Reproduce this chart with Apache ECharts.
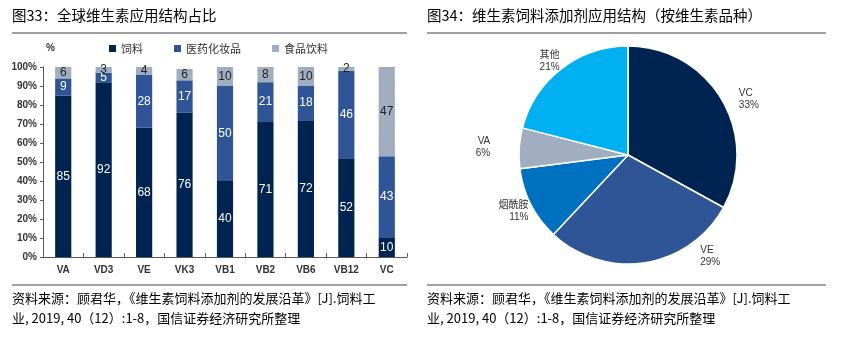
<!DOCTYPE html>
<html><head><meta charset="utf-8">
<script src="https://cdn.jsdelivr.net/npm/echarts@6/dist/echarts.min.js"></script>
<style>html,body{margin:0;padding:0;background:#fff}#c{width:841px;height:337px}</style>
</head><body><div id="c"></div>
<script>
const categories = ['VA','VD3','VE','VK3','VB1','VB2','VB6','VB12','VC'];
const feed = [85,92,68,76,40,71,72,52,10];
const pharma = [9,5,28,17,50,21,18,46,43];
const food = [6,3,4,6,10,8,10,2,47];
const yTicks = [0,10,20,30,40,50,60,70,80,90,100];
const pieNames = ['VC','VE','烟酰胺','VA','其他'];
const pieValues = [33,29,11,6,21];
const pieColors = ['#002452','#2F5597','#0070C0','#A0AEBF','#00B0F0'];
const barColors = ['#002452','#2F5597','#A0AEBF'];
// label nudges (layout only)
const pieLabelShift = [[0,7],[48,-20],[15,0],[-10,0],[12,3]];

const FF = '"Liberation Sans", "Noto Sans CJK SC", sans-serif';
const CJK = '"Noto Sans CJK SC", sans-serif';
const chart = echarts.init(document.getElementById('c'));
const lbl = (color) => ({show:true, position:'inside', color:color, fontSize:12, fontFamily:FF});
const src1 = '资料来源：顾君华，《维生素饲料添加剂的发展沿革》[J].饲料工';
const src2 = '业, 2019, 40（12）:1-8，国信证券经济研究所整理';
function txt(x,y,t,size){return {type:'text',left:x,top:y,style:{text:t,fontSize:size,fontFamily:CJK,fill:'#000'}};}
function hline(x1,x2,y){return {type:'line',shape:{x1:x1,y1:y,x2:x2,y2:y},style:{stroke:'#808080',lineWidth:1.5}};}
chart.setOption({
  animation:false,
  textStyle:{fontFamily:FF},
  graphic:[
    txt(12,8,'图33：全球维生素应用结构占比',14.5),
    txt(427,8,'图34：维生素饲料添加剂应用结构（按维生素品种）',14.5),
    hline(12,407,33), hline(427,826,33),
    hline(12,407,285), hline(427,826,285),
    txt(12,292,src1,13), txt(12,312,src2,13),
    txt(427,292,src1,13), txt(427,312,src2,13)
  ],
  legend:{top:38,left:104,itemWidth:7,itemHeight:7,itemGap:31,icon:'rect',
    textStyle:{fontSize:11,color:'#333',fontFamily:CJK},
    data:['饲料','医药化妆品','食品饮料']},
  grid:{left:43,right:434,top:67,bottom:80},
  xAxis:{type:'category',data:categories,
    axisLine:{lineStyle:{color:'#595959',width:1}},
    axisTick:{show:true,inside:true,length:4,lineStyle:{color:'#595959'}},
    axisLabel:{fontSize:10,color:'#333',fontWeight:'bold',margin:8}},
  yAxis:{type:'value',min:0,max:100,interval:10,name:'%',nameGap:14,
    nameTextStyle:{fontSize:10,color:'#333',fontWeight:'bold',align:'left',padding:[0,0,0,3]},
    axisLine:{show:true,lineStyle:{color:'#595959'}},
    axisTick:{show:true,length:3,lineStyle:{color:'#595959'}},
    splitLine:{show:false},
    axisLabel:{fontSize:10,color:'#333',fontWeight:'bold',margin:6,formatter:'{value}%'}},
  series:[
    {name:'饲料',type:'bar',stack:'a',data:feed,barWidth:'40%',itemStyle:{color:barColors[0]},label:lbl('#fff')},
    {name:'医药化妆品',type:'bar',stack:'a',data:pharma,itemStyle:{color:barColors[1]},label:lbl('#fff')},
    {name:'食品饮料',type:'bar',stack:'a',data:food,itemStyle:{color:barColors[2]},label:lbl('#222')},
    {type:'pie',center:[628,155],radius:109,startAngle:90,
      itemStyle:{borderColor:'#fff',borderWidth:1.5},
      label:{show:true,position:'outside',formatter:'{b}\n{c}%',fontSize:10,color:'#333',align:'center',lineHeight:12,fontFamily:FF},
      labelLine:{show:false,length:14,length2:0},
      labelLayout:function(p){const s=pieLabelShift[p.dataIndex]||[0,0];return {dx:s[0],dy:s[1]};},
      data:pieNames.map((n,i)=>({name:n,value:pieValues[i],itemStyle:{color:pieColors[i]}}))}
  ]
});
</script></body></html>
